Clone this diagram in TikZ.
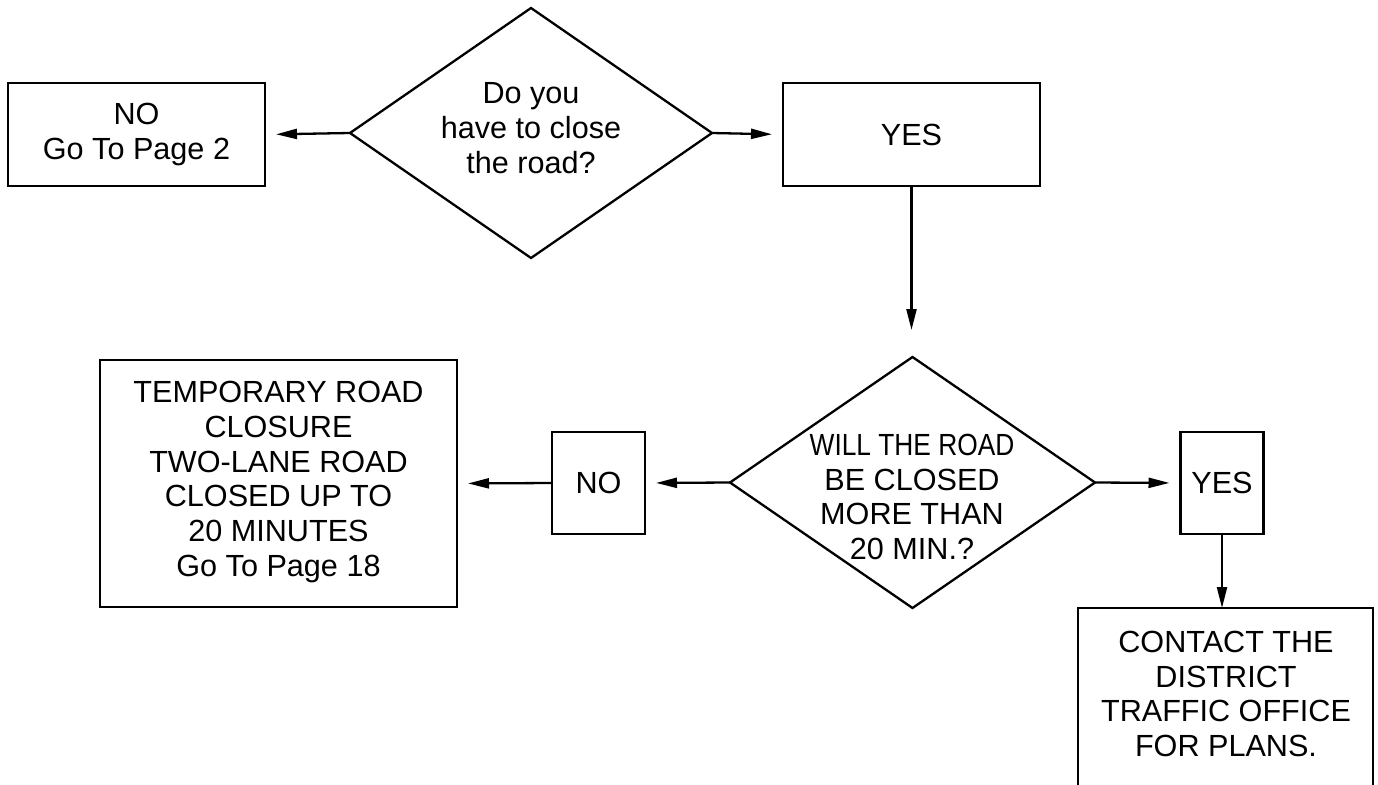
\documentclass[tikz,border=0pt]{standalone}
\usepackage{fontspec}
\setmainfont{Liberation Sans}
\usetikzlibrary{shapes.geometric,arrows.meta}
\tikzset{
  every picture/.style={x=1pt,y=-1pt},
  box/.style={draw, line width=2.3pt, rectangle, inner sep=0pt, outer sep=0pt},
  dia/.style={draw, line width=2.3pt, diamond, inner sep=0pt, outer sep=0pt},
  txt/.style={align=center, font=\fontsize{30.6}{34.8}\selectfont, inner sep=0pt},
  tip/.style={-{Triangle[length=21pt,width=10pt]}},
  arr/.style={line width=2.3pt, tip, shorten >=11pt},
  vline/.style={line width=2.3pt, tip},
}
\begin{document}
\begin{tikzpicture}
\clip (0,0) rectangle (1378,784);
\fill[white] (0,0) rectangle (1378,784);
% top row
\node[box, minimum width=257pt, minimum height=103pt] (no1) at (136.5,134.5) {};
\node[txt] (no1t) at (no1) {NO\\Go To Page 2};
\node[dia, minimum width=362pt, minimum height=250pt] (d1) at (531,133) {};
\node[txt] (d1t) at (531,128) {Do you\\have to close\\the road?};
\node[box, minimum width=257pt, minimum height=103pt] (yes1) at (911.5,134.5) {};
\node[txt] (yes1t) at (yes1) {YES};
% middle row
\node[dia, minimum width=365pt, minimum height=251pt] (d2) at (912.5,482.5) {};
\node[txt] (d2t) at (912,497) {\scalebox{0.86}[1]{WILL THE ROAD}\\BE CLOSED\\MORE THAN\\20 MIN.?};
\node[box, minimum width=93pt, minimum height=102pt] (no2) at (598.5,483) {};
\node[txt] (no2t) at (no2) {NO};
\node[box, minimum width=357pt, minimum height=247pt] (temp) at (278.5,483.5) {};
\node[txt] (tempt) at (278.5,482) {TEMPORARY ROAD\\CLOSURE\\TWO-LANE ROAD\\CLOSED UP TO\\20 MINUTES\\Go To Page 18};
\node[box, minimum width=83pt, minimum height=102pt] (yes2) at (1222,483) {};
\node[txt] (yes2t) at (yes2) {YES};
\node[box, minimum width=295pt, minimum height=220pt] (cont) at (1225.5,718) {};
\node[txt] (contt) at (1226,694) {CONTACT THE\\DISTRICT\\TRAFFIC OFFICE\\FOR PLANS.};
% connectors
\coordinate (d2in) at (911.5,330);
\draw[arr] (d1.west) -- (no1.east);
\draw[arr] (d1.east) -- (yes1.west);
\draw[vline] (yes1.south) -- (d2in);
\draw[arr] (d2.west) -- (no2.east);
\draw[arr] (no2.west) -- (temp.east);
\draw[arr] (d2.east) -- (yes2.west);
\draw[vline] (yes2.south) -- (cont.north -| yes2.south);
\end{tikzpicture}
\end{document}
